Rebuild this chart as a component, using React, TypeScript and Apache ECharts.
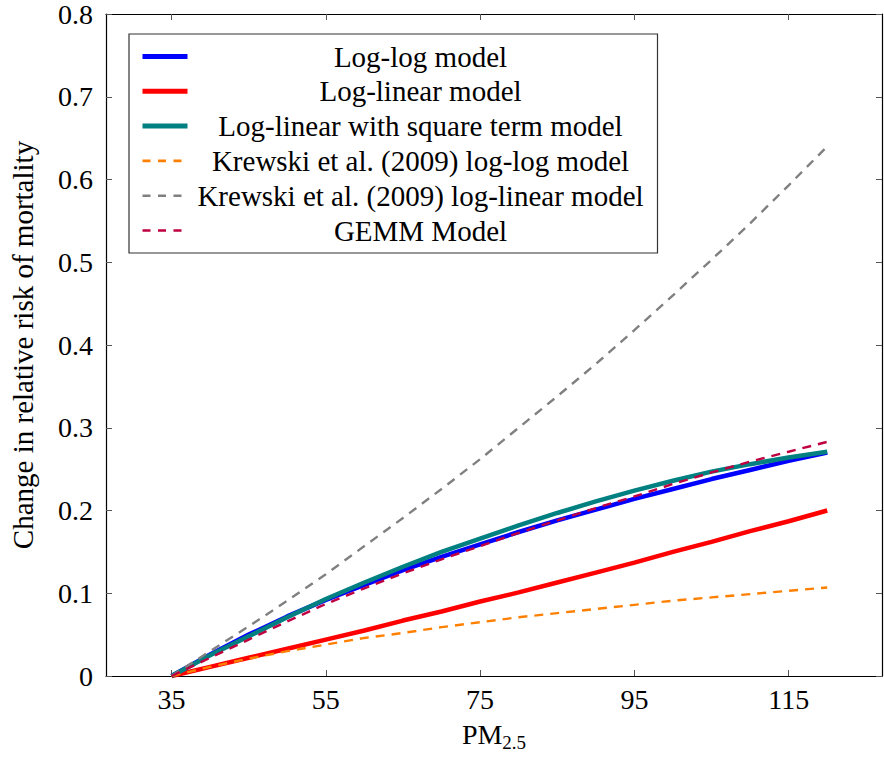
import React, { useEffect, useRef } from "react";
import * as echarts from "echarts";

const pm = [35, 40, 45, 50, 55, 60, 65, 70, 75, 80, 85, 90, 95, 100, 105, 110, 115, 120];
const logLog = [0, 0.026, 0.05, 0.072, 0.092, 0.11, 0.128, 0.144, 0.159, 0.174, 0.188, 0.201, 0.214, 0.226, 0.238, 0.249, 0.26, 0.27];
const logLinear = [0, 0.011, 0.022, 0.033, 0.044, 0.055, 0.067, 0.078, 0.09, 0.101, 0.113, 0.125, 0.137, 0.15, 0.162, 0.175, 0.187, 0.2];
const squareTerm = [0, 0.025, 0.048, 0.071, 0.093, 0.113, 0.132, 0.15, 0.166, 0.182, 0.197, 0.211, 0.224, 0.236, 0.247, 0.256, 0.264, 0.271];
const krewskiLogLog = [0, 0.011, 0.021, 0.03, 0.038, 0.046, 0.052, 0.059, 0.065, 0.071, 0.076, 0.081, 0.086, 0.091, 0.095, 0.099, 0.103, 0.107];
const krewskiLogLinear = [0, 0.03, 0.06, 0.091, 0.123, 0.157, 0.191, 0.226, 0.262, 0.3, 0.338, 0.377, 0.418, 0.46, 0.503, 0.547, 0.593, 0.64];
const gemm = [0, 0.022, 0.044, 0.066, 0.087, 0.106, 0.124, 0.141, 0.157, 0.173, 0.188, 0.203, 0.217, 0.232, 0.246, 0.259, 0.271, 0.283];

const xTicks = [35, 55, 75, 95, 115];
const yTicks = [0, 0.1, 0.2, 0.3, 0.4, 0.5, 0.6, 0.7, 0.8];
const yTickLabels = ["0", "0.1", "0.2", "0.3", "0.4", "0.5", "0.6", "0.7", "0.8"];

const seriesNames = [
  "Log-log model",
  "Log-linear model",
  "Log-linear with square term model",
  "Krewski et al. (2009) log-log model",
  "Krewski et al. (2009) log-linear model",
  "GEMM Model",
];
const seriesColors = ["#0000ff", "#ff0000", "#008080", "#ff8000", "#808080", "#bf0040"];
const seriesDashed = [false, false, false, true, true, true];

const FONT = "'Liberation Serif', 'Times New Roman', Times, serif";

export default function App() {
  const ref = useRef<HTMLDivElement>(null);
  useEffect(() => {
    if (!ref.current) return;
    const chart = echarts.init(ref.current, null, { renderer: "svg" });

    const mk = (i: number, vals: number[]) => ({
      type: "line",
      name: seriesNames[i],
      data: pm.map((x, k) => [x, vals[k]]),
      symbol: "none",
      showSymbol: false,
      smooth: false,
      clip: false,
      lineStyle: {
        color: seriesColors[i],
        width: seriesDashed[i] ? 2.4 : 4.5,
        type: seriesDashed[i] ? [9, 7] : "solid",
      },
      itemStyle: { color: seriesColors[i] },
    });

    const tickStyle = { color: "#555", width: 1 };
    const axisLineStyle = { color: "#000", width: 1.2 };

    chart.setOption({
      animation: false,
      backgroundColor: "#fff",
      textStyle: { fontFamily: FONT, color: "#000" },
      grid: { left: 105, right: 2, top: 14, bottom: 80, containLabel: false },
      legend: {
        orient: "vertical",
        left: 129,
        top: 34,
        itemWidth: 45,
        itemHeight: 14,
        itemGap: 5.8,
        padding: [8, 9, 8, 11],
        borderColor: "#333",
        borderWidth: 1.2,
        backgroundColor: "#fff",
        selectedMode: false,
        itemStyle: { opacity: 0 },
        data: seriesNames.map((n, i) => ({
          name: n,
          itemStyle: { opacity: 0 },
          lineStyle: {
            color: seriesColors[i],
            width: seriesDashed[i] ? 2.6 : 5,
            type: seriesDashed[i] ? [8, 7.5] : "solid",
          },
        })),
        formatter: (name: string) => `{t|${name}}`,
        textStyle: {
          fontFamily: FONT,
          fontSize: 29,
          color: "#000",
          rich: {
            t: { width: 456, align: "center", fontSize: 29, lineHeight: 29, fontFamily: FONT, color: "#000" },
          },
        },
      },
      xAxis: [
        {
          type: "value",
          position: "bottom",
          min: 26.5,
          max: 127.1,
          axisLine: { show: true, onZero: false, lineStyle: axisLineStyle },
          axisTick: { show: true, inside: true, length: 6, customValues: xTicks, lineStyle: tickStyle },
          axisLabel: { customValues: xTicks, fontSize: 28, fontFamily: FONT, color: "#000", margin: 9 },
          splitLine: { show: false },
          name: "{a|PM}{b|2.5}",
          nameLocation: "middle",
          nameGap: 44,
          nameTextStyle: {
            rich: {
              a: { fontSize: 28, fontFamily: FONT, color: "#000", lineHeight: 32, verticalAlign: "top" },
              b: { fontSize: 19, fontFamily: FONT, color: "#000", lineHeight: 32, verticalAlign: "bottom" },
            },
          },
        },
        {
          type: "value",
          position: "top",
          min: 26.5,
          max: 127.1,
          axisLine: { show: true, onZero: false, lineStyle: axisLineStyle },
          axisTick: { show: true, inside: true, length: 6, customValues: xTicks, lineStyle: tickStyle },
          axisLabel: { show: false },
          splitLine: { show: false },
        },
      ],
      yAxis: [
        {
          type: "value",
          position: "left",
          min: 0,
          max: 0.8,
          interval: 0.1,
          axisLine: { show: true, onZero: false, lineStyle: axisLineStyle },
          axisTick: { show: true, inside: true, length: 6, lineStyle: tickStyle },
          axisLabel: {
            fontSize: 28,
            fontFamily: FONT,
            color: "#000",
            margin: 13,
            formatter: (v: number) => {
              const i = yTicks.findIndex((t) => Math.abs(t - v) < 1e-6);
              return i >= 0 ? yTickLabels[i] : "";
            },
          },
          splitLine: { show: false },
          name: "Change in relative risk of mortality",
          nameLocation: "middle",
          nameRotate: 90,
          nameGap: 69,
          nameTextStyle: { fontSize: 29, fontFamily: FONT, color: "#000" },
        },
        {
          type: "value",
          position: "right",
          min: 0,
          max: 0.8,
          interval: 0.1,
          axisLine: { show: true, onZero: false, lineStyle: axisLineStyle },
          axisTick: { show: true, inside: true, length: 6, lineStyle: tickStyle },
          axisLabel: { show: false },
          splitLine: { show: false },
        },
      ],
      series: [
        mk(0, logLog),
        mk(1, logLinear),
        mk(2, squareTerm),
        mk(3, krewskiLogLog),
        mk(4, krewskiLogLinear),
        mk(5, gemm),
      ],
    });

    return () => chart.dispose();
  }, []);

  return (
    <div
      ref={ref}
      style={{ position: "fixed", left: 0, top: 0, width: 884, height: 757, background: "#fff" }}
    />
  );
}
